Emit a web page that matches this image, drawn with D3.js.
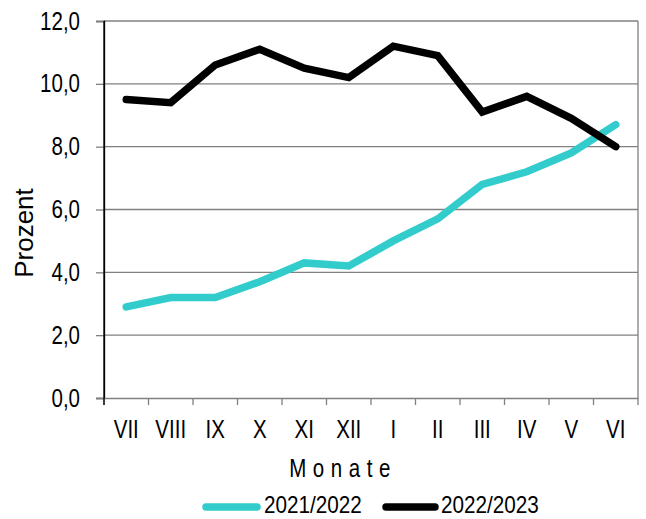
<!DOCTYPE html>
<html><head><meta charset="utf-8">
<script src="https://cdn.jsdelivr.net/npm/d3@7"></script>
<style>body{margin:0;background:#fff}svg{display:block}text{font-family:"Liberation Sans",Arial,sans-serif;fill:#000}</style>
</head><body><svg id="c" width="646" height="519"></svg>
<script>
const months = ["VII","VIII","IX","X","XI","XII","I","II","III","IV","V","VI"];
const s2122 = [2.9,3.2,3.2,3.7,4.3,4.2,5.0,5.7,6.8,7.2,7.8,8.7];
const s2223 = [9.5,9.4,10.6,11.1,10.5,10.2,11.2,10.9,9.1,9.6,8.9,8.0];
const yTicks = [0,2,4,6,8,10,12];
const seriesNames = ["2021/2022","2022/2023"];
const seriesColors = ["#33CCCC","#000000"];

const svg = d3.select("#c");
const L=104, R=638, T=21, B=398;
const SX = 0.82; // condensed look
const x = d3.scaleBand().domain(months).range([L,R]);
const y = d3.scaleLinear().domain([0,12]).range([B,T]);
const fmt = d => d3.format(".1f")(d).replace(".",",");

// gridlines
svg.append("g").selectAll("line").data(yTicks.filter(d=>d>0)).join("line")
  .attr("x1",L).attr("x2",R).attr("y1",d=>y(d)).attr("y2",d=>y(d))
  .attr("stroke","#808080").attr("stroke-width",1.3);
svg.append("line").attr("x1",R).attr("x2",R).attr("y1",T).attr("y2",B).attr("stroke","#808080").attr("stroke-width",1.3);

// y axis
const ya = svg.append("g").attr("transform",`translate(${L},0)`)
  .call(d3.axisLeft(y).tickValues(yTicks).tickFormat(fmt).tickSize(8).tickPadding(16));
ya.select(".domain").attr("stroke","#000").attr("stroke-width",1.3);
ya.selectAll(".tick line").attr("stroke","#808080").attr("stroke-width",1.3);
ya.selectAll("text").style("font-size","25px").attr("fill","#000")
  .attr("x",-24/SX).attr("transform",`scale(${SX},1)`);

// x axis
const xa = svg.append("g").attr("transform",`translate(0,${B})`)
  .call(d3.axisBottom(x).tickSize(0).tickPadding(22));
xa.select(".domain").attr("stroke","#808080").attr("stroke-width",1.3);
xa.selectAll("text").style("font-size","25px").attr("fill","#000").attr("transform",`scale(${SX},1)`);
const bounds = months.map(m=>x(m)).concat([R]);
svg.append("g").selectAll("line").data(bounds).join("line")
  .attr("x1",d=>d).attr("x2",d=>d).attr("y1",B).attr("y2",B+7)
  .attr("stroke","#808080").attr("stroke-width",1.3);
svg.append("line").attr("x1",L).attr("x2",L).attr("y1",T).attr("y2",B+7).attr("stroke","#000").attr("stroke-width",1.3);

// lines
const line = d3.line().x((d,i)=>x(months[i])+x.bandwidth()/2).y(d=>y(d));
[s2122,s2223].forEach((s,k)=>{
  svg.append("path").datum(s).attr("d",line).attr("fill","none")
    .attr("stroke",seriesColors[k]).attr("stroke-width",7.5)
    .attr("stroke-linecap","round").attr("stroke-linejoin","miter");
});

// axis titles
svg.append("text").attr("transform","translate(33,233) rotate(-90)")
  .attr("text-anchor","middle").style("font-size","26px").text("Prozent");
svg.append("text").attr("transform",`translate(343,477) scale(${SX},1)`).attr("text-anchor","middle")
  .style("font-size","25px").style("letter-spacing","8px").text("Monate");

// legend
const lg = [{x1:206,x2:257,tx:264},{x1:386,x2:435,tx:441}];
lg.forEach((p,k)=>{
  svg.append("line").attr("x1",p.x1).attr("x2",p.x2).attr("y1",507).attr("y2",507)
    .attr("stroke",seriesColors[k]).attr("stroke-width",7.5).attr("stroke-linecap","round");
  svg.append("text").attr("transform",`translate(${p.tx},513) scale(0.9,1)`)
    .style("font-size","23px").text(seriesNames[k]);
});
</script></body></html>
